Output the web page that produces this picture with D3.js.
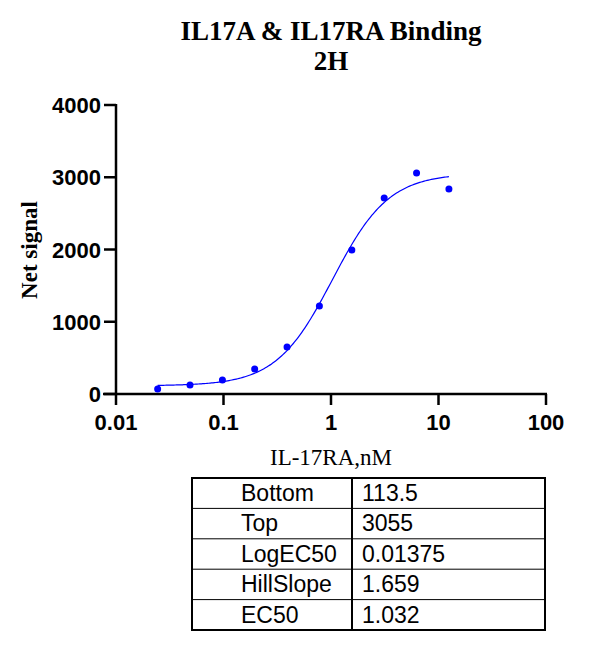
<!DOCTYPE html>
<html><head><meta charset="utf-8">
<script src="https://cdn.jsdelivr.net/npm/d3@7"></script>
<style>body{margin:0;background:#fff}</style>
</head><body>
<svg id="chart" width="591" height="646"></svg>
<script>
const conc = [0.0244, 0.0488, 0.0977, 0.195, 0.39, 0.78, 1.5625, 3.125, 6.25, 12.5];
const signal = [69, 124, 194, 346, 650, 1218, 1993, 2712, 3058, 2837];
const xTicks = [0.01, 0.1, 1, 10, 100];
const yTicks = [0, 1000, 2000, 3000, 4000];
const fitRows = [["Bottom", "113.5"], ["Top", "3055"], ["LogEC50", "0.01375"], ["HillSlope", "1.659"], ["EC50", "1.032"]];
const fit = {bottom: 113.5, top: 3055, logEC50: 0.01375, hill: 1.659};

const svg = d3.select("#chart");
const x = d3.scaleLog().domain([0.01, 100]).range([116, 546]);
const y = d3.scaleLinear().domain([0, 4000]).range([394, 105]);

svg.append("text").attr("x", 331).attr("y", 40).attr("text-anchor", "middle")
    .style("font", "bold 27px 'Liberation Serif', serif").text("IL17A & IL17RA Binding");
svg.append("text").attr("x", 331).attr("y", 70).attr("text-anchor", "middle")
    .style("font", "bold 27px 'Liberation Serif', serif").text("2H");

// axes
svg.append("line").attr("x1", 103).attr("x2", 547).attr("y1", 394).attr("y2", 394).attr("stroke", "#000").attr("stroke-width", 2.5);
svg.append("line").attr("x1", 116).attr("x2", 116).attr("y1", 104).attr("y2", 395).attr("stroke", "#000").attr("stroke-width", 2.5);

xTicks.forEach(t => {
    svg.append("line").attr("x1", x(t)).attr("x2", x(t)).attr("y1", 394).attr("y2", 405).attr("stroke", "#000").attr("stroke-width", 2.5);
    svg.append("text").attr("x", x(t)).attr("y", 430).attr("text-anchor", "middle")
        .style("font", "bold 22px 'Liberation Sans', Arial, sans-serif").text(t);
});
yTicks.forEach(t => {
    svg.append("line").attr("x1", 104).attr("x2", 116).attr("y1", y(t)).attr("y2", y(t)).attr("stroke", "#000").attr("stroke-width", 2.5);
    svg.append("text").attr("x", 101).attr("y", y(t) + 8).attr("text-anchor", "end")
        .style("font", "bold 22px 'Liberation Sans', Arial, sans-serif").text(t);
});

svg.append("text").attr("transform", "translate(37,250) rotate(-90)").attr("text-anchor", "middle")
    .style("font", "bold 23px 'Liberation Serif', serif").text("Net signal");
svg.append("text").attr("x", 331).attr("y", 465).attr("text-anchor", "middle")
    .style("font", "23px 'Liberation Serif', serif").text("IL-17RA,nM");

// fitted curve
const curveX = d3.range(0, 201).map(i => Math.pow(10, Math.log10(conc[0]) + i / 200 * (Math.log10(conc[conc.length - 1]) - Math.log10(conc[0]))));
const model = c => fit.bottom + (fit.top - fit.bottom) / (1 + Math.pow(10, (fit.logEC50 - Math.log10(c)) * fit.hill));
svg.append("path").datum(curveX)
    .attr("d", d3.line().x(d => x(d)).y(d => y(model(d))))
    .attr("fill", "none").attr("stroke", "#0000ff").attr("stroke-width", 1.2);

svg.selectAll("circle.pt").data(conc).enter().append("circle")
    .attr("cx", d => x(d)).attr("cy", (d, i) => y(signal[i])).attr("r", 3.5).attr("fill", "#0000ff");

// parameter table
const tx0 = 192, tx1 = 352, tx2 = 545, ty0 = 478, rowH = 30.4;
const tbl = svg.append("g");
tbl.append("rect").attr("x", tx0).attr("y", ty0).attr("width", tx2 - tx0).attr("height", rowH * fitRows.length)
    .attr("fill", "none").attr("stroke", "#000").attr("stroke-width", 2);
tbl.append("line").attr("x1", tx1).attr("x2", tx1).attr("y1", ty0).attr("y2", ty0 + rowH * fitRows.length).attr("stroke", "#000").attr("stroke-width", 2);
fitRows.forEach((r, i) => {
    if (i > 0) tbl.append("line").attr("x1", tx0).attr("x2", tx2).attr("y1", ty0 + rowH * i).attr("y2", ty0 + rowH * i).attr("stroke", "#000").attr("stroke-width", 1);
    tbl.append("text").attr("x", 241).attr("y", ty0 + rowH * i + 23).style("font", "23px 'Liberation Sans', Arial, sans-serif").text(r[0]);
    tbl.append("text").attr("x", 362).attr("y", ty0 + rowH * i + 23).style("font", "23px 'Liberation Sans', Arial, sans-serif").text(r[1]);
});
</script>
</body></html>
